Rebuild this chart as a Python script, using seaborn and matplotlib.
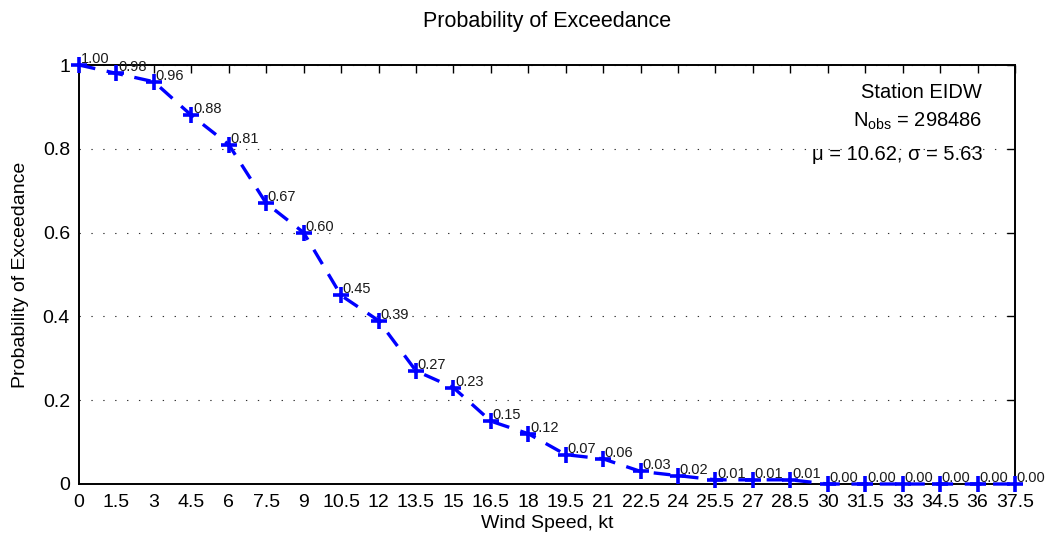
import matplotlib
matplotlib.use("Agg")
import matplotlib.pyplot as plt
import seaborn as sns
import pandas as pd

# Wind speed bins (kt) and probability of exceedance
wind_speed = [0, 1.5, 3, 4.5, 6, 7.5, 9, 10.5, 12, 13.5, 15, 16.5, 18, 19.5,
              21, 22.5, 24, 25.5, 27, 28.5, 30, 31.5, 33, 34.5, 36, 37.5]
exceedance = [1.00, 0.98, 0.96, 0.88, 0.81, 0.67, 0.60, 0.45, 0.39, 0.27,
              0.23, 0.15, 0.12, 0.07, 0.06, 0.03, 0.02, 0.01, 0.01, 0.01,
              0.00, 0.00, 0.00, 0.00, 0.00, 0.00]
x_tick_labels = ["0", "1.5", "3", "4.5", "6", "7.5", "9", "10.5", "12", "13.5",
                 "15", "16.5", "18", "19.5", "21", "22.5", "24", "25.5", "27",
                 "28.5", "30", "31.5", "33", "34.5", "36", "37.5"]
y_ticks = [0, 0.2, 0.4, 0.6, 0.8, 1]
y_tick_labels = ["0", "0.2", "0.4", "0.6", "0.8", "1"]

station = "EIDW"
n_obs = 298486
mu, sigma = 10.62, 5.63

sns.set_style("white")
plt.rcParams["font.family"] = ["Liberation Sans", "DejaVu Sans"]
plt.rcParams["mathtext.fontset"] = "custom"
plt.rcParams["mathtext.rm"] = "Liberation Sans"
plt.rcParams["text.color"] = "black"
plt.rcParams["axes.labelcolor"] = "black"

df = pd.DataFrame({"speed": wind_speed, "prob": exceedance})

fig = plt.figure(figsize=(10.48, 5.42), dpi=100)
ax = fig.add_axes([79 / 1048, 1 - 484 / 542, (1015 - 79) / 1048, (484 - 65) / 542])

sns.lineplot(data=df, x="speed", y="prob", ax=ax, color="#0000ff",
             linewidth=2.4, linestyle=(0, (5.0, 3.5)), marker="+",
             markersize=11, markeredgewidth=2.6, markeredgecolor="#0000ff",
             zorder=3, clip_on=False)

# value labels next to each point
for xv, yv in zip(wind_speed, exceedance):
    ax.annotate(f"{yv:.2f}", (xv, yv), xytext=(1.2, 1.5), textcoords="offset points",
                ha="left", va="baseline", fontsize=10.5, color="#1a1a1a",
                annotation_clip=False, zorder=4)

ax.set_xlim(0, 37.5)
ax.set_ylim(0, 1)
ax.set_xticks(wind_speed)
ax.set_xticklabels(x_tick_labels)
ax.set_yticks(y_ticks)
ax.set_yticklabels(y_tick_labels)
ax.tick_params(axis="both", which="both", direction="in", length=6, width=1,
               labelsize=14, top=True, right=True, colors="black")
ax.tick_params(axis="x", pad=7)
ax.tick_params(axis="y", pad=6.5)
ax.yaxis.grid(True, linestyle=(0, (1.2, 9.5)), color="#303030", linewidth=0.8)
ax.xaxis.grid(False)
for sp in ax.spines.values():
    sp.set_visible(True)
    sp.set_color("black")
    sp.set_linewidth(1.4)

ax.set_xlabel("Wind Speed, kt", fontsize=14, labelpad=3)
ax.set_ylabel("Probability of Exceedance", fontsize=14, labelpad=10)
ax.set_title("Probability of Exceedance", fontsize=15.5, pad=27, color="black")

ax.text(0.965, 0.921, f"Station {station}", transform=ax.transAxes,
        ha="right", va="baseline", fontsize=14.5)
ax.text(0.965, 0.852, r"N$_{\mathregular{obs}}$ = " + f"{n_obs}",
        transform=ax.transAxes, ha="right", va="baseline", fontsize=14.5)
ax.text(0.965, 0.773, f"\u03bc = {mu:.2f}, \u03c3 = {sigma:.2f}",
        transform=ax.transAxes, ha="right", va="baseline", fontsize=14.5)

fig.savefig("out.png", dpi=100, facecolor="white")
